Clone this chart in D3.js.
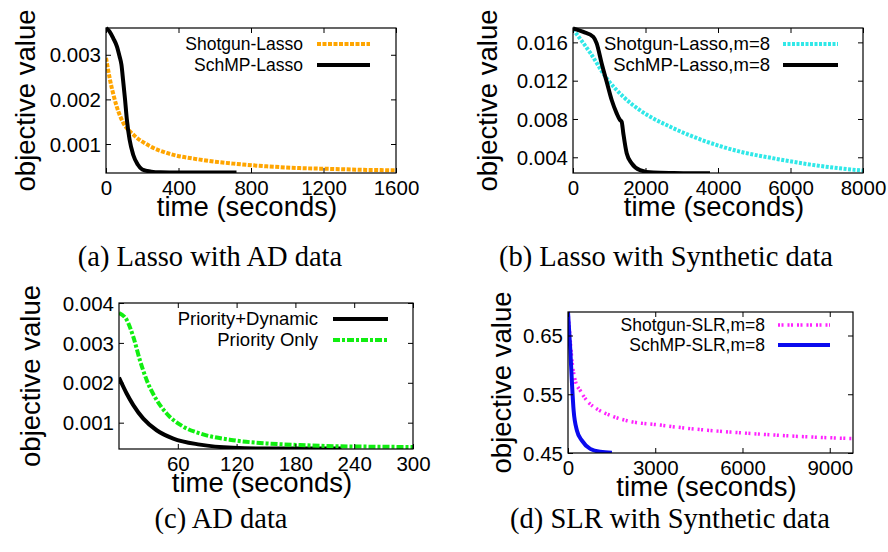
<!DOCTYPE html>
<html>
<head>
<meta charset="utf-8">
<script src="https://cdn.jsdelivr.net/npm/d3@7/dist/d3.min.js"></script>
<style>
html,body{margin:0;padding:0;background:#fff;}
svg{display:block;}
text{font-family:"Liberation Sans",Arial,sans-serif;fill:#000;}
.cap{font-family:"Liberation Serif","Times New Roman",serif;}
</style>
</head>
<body>
<svg id="chart" width="888" height="552"></svg>
<script>
// ---------- DATA ----------
// (a) Lasso with AD data
const aShotgunTime  = [0, 10, 22, 40, 59, 96, 151, 243, 335, 519, 702, 886, 1070, 1254, 1438, 1600];
const aShotgunValue = [0.00293, 0.0027, 0.00244, 0.00212, 0.00184, 0.00147, 0.00121, 0.00095, 0.0008, 0.00065, 0.00056, 0.0005, 0.00046, 0.00044, 0.00042, 0.00041];
const aSchmpTime    = [0, 20, 40, 60, 75, 85, 95, 105, 115, 130, 150, 175, 200, 250, 300, 400, 550, 720];
const aSchmpValue   = [0.0036, 0.00352, 0.00337, 0.00319, 0.00296, 0.00278, 0.0024, 0.002, 0.00155, 0.0011, 0.00076, 0.00054, 0.00043, 0.00038, 0.000365, 0.00036, 0.00036, 0.00036];
const aXTicks = [0, 400, 800, 1200, 1600];
const aYTicks = [0.001, 0.002, 0.003];

// (b) Lasso with Synthetic data
const bShotgunTime  = [0, 477, 936, 1394, 1853, 2771, 3688, 4606, 5523, 6440, 7358, 8000];
const bShotgunValue = [0.01736, 0.0149, 0.0122, 0.0103, 0.0089, 0.00703, 0.00563, 0.00459, 0.0039, 0.0033, 0.00285, 0.00261];
const bSchmpTime    = [0, 285, 560, 653, 791, 929, 1067, 1205, 1297, 1343, 1388, 1481, 1619, 1848, 2216, 2771, 3228, 3780];
const bSchmpValue   = [0.01746, 0.0171, 0.01658, 0.0159, 0.0138, 0.01189, 0.00998, 0.00859, 0.00789, 0.00771, 0.0065, 0.00442, 0.00337, 0.00267, 0.0024, 0.00235, 0.00233, 0.00233];
const bXTicks = [0, 2000, 4000, 6000, 8000];
const bYTicks = [0.004, 0.008, 0.012, 0.016];

// (c) AD data
const cDynTime   = [0, 7.8, 14.6, 24.8, 38.4, 55.4, 82.6, 116.5, 150.5, 190, 227];
const cDynValue  = [0.00213, 0.00173, 0.00144, 0.0011, 0.00081, 0.0006, 0.00045, 0.00037, 0.00035, 0.00035, 0.00035];
const cPrioTime  = [0, 7.8, 14.6, 21.4, 28.2, 38.4, 48.6, 65.6, 82.6, 116.5, 150.5, 184.5, 218.5, 252, 300];
const cPrioValue = [0.00375, 0.00358, 0.00315, 0.00256, 0.00207, 0.00157, 0.00123, 0.0009, 0.00073, 0.00056, 0.00048, 0.00044, 0.00041, 0.0004, 0.00039];
const cXTicks = [60, 120, 180, 240, 300];
const cYTicks = [0.001, 0.002, 0.003, 0.004];

// (d) SLR with Synthetic data
const dShotgunTime  = [0, 80, 137, 251, 423, 652, 995, 1452, 2024, 3168, 4198, 5342, 6486, 7630, 9800];
const dShotgunValue = [0.69, 0.64, 0.607, 0.573, 0.556, 0.539, 0.525, 0.514, 0.505, 0.4975, 0.4915, 0.4865, 0.4825, 0.479, 0.4745];
const dSchmpTime    = [0, 80, 137, 194, 309, 480, 766, 1109, 1510];
const dSchmpValue   = [0.69, 0.6245, 0.568, 0.522, 0.488, 0.471, 0.457, 0.452, 0.4505];
const dXTicks = [0, 3000, 6000, 9000];
const dYTicks = [0.45, 0.55, 0.65];

// ---------- STYLES ----------
const STY = {
  black:   {color:"#000000", width:4,   dash:null},
  orange:  {color:"#ffa500", width:4,   dash:"4,1.5"},
  cyan:    {color:"#30e8e8", width:4,   dash:"3,1.5"},
  green:   {color:"#11ee11", width:4,   dash:"7,2,3,2"},
  magenta: {color:"#ff22ff", width:3.5, dash:"2,1.5,2,4"},
  blue:    {color:"#0a0aee", width:4,   dash:null}
};
const zip = (t, v) => t.map((x, i) => ({t:x, v:v[i]}));

const panels = [
  {box:[106,396,28,173], xd:[0,1600], yd:[0.00035,0.0036], xt:aXTicks, yt:aYTicks, fmt:d3.format(".3f"),
   ylabX:35, tickFs:20.5, legFs:17.5, leg:{textX:303, x1:317, x2:370, y:[44,65]},
   caption:"(a) Lasso with AD data", capX:210, capY:266,
   series:[{name:"Shotgun-Lasso", data:zip(aShotgunTime,aShotgunValue), s:STY.orange},
           {name:"SchMP-Lasso", data:zip(aSchmpTime,aSchmpValue), s:STY.black}]},
  {box:[573,863,28,173], xd:[0,8000], yd:[0.00236,0.0175], xt:bXTicks, yt:bYTicks, fmt:d3.format(".3f"),
   ylabX:497, tickFs:20.5, legFs:18.5, leg:{textX:770, x1:783, x2:838, y:[44,65]},
   caption:"(b) Lasso with Synthetic data", capX:666, capY:266,
   series:[{name:"Shotgun-Lasso,m=8", data:zip(bShotgunTime,bShotgunValue), s:STY.cyan},
           {name:"SchMP-Lasso,m=8", data:zip(bSchmpTime,bSchmpValue), s:STY.black}]},
  {box:[119,413,303,449], xd:[0,300], yd:[0.00034,0.004], xt:cXTicks, yt:cYTicks, fmt:d3.format(".3f"),
   ylabX:40, tickFs:20.5, legFs:18.5, leg:{textX:318, x1:333, x2:388, y:[319,340]},
   caption:"(c) AD data", capX:221, capY:528,
   series:[{name:"Priority+Dynamic", data:zip(cDynTime,cDynValue), s:STY.black},
           {name:"Priority Only", data:zip(cPrioTime,cPrioValue), s:STY.green}]},
  {box:[568,853,312,453], xd:[0,9800], yd:[0.45,0.69], xt:dXTicks, yt:dYTicks, fmt:d3.format(".2f"),
   ylabX:511, tickFs:20.5, legFs:17.5, leg:{textX:765, x1:778, x2:830, y:[325,345]},
   caption:"(d) SLR with Synthetic data", capX:670, capY:528,
   series:[{name:"Shotgun-SLR,m=8", data:zip(dShotgunTime,dShotgunValue), s:STY.magenta},
           {name:"SchMP-SLR,m=8", data:zip(dSchmpTime,dSchmpValue), s:STY.blue}]}
];

const svg = d3.select("#chart");
const TL = 5;

panels.forEach(p => {
  const [L,R,T,B] = p.box;
  const x = d3.scaleLinear().domain(p.xd).range([L,R]);
  const y = d3.scaleLinear().domain(p.yd).range([B,T]);
  const g = svg.append("g");

  const clipId = "clip" + L + "_" + T;
  svg.append("clipPath").attr("id", clipId).append("rect")
     .attr("x", L).attr("y", T - 3).attr("width", R - L + 3).attr("height", B - T + 3);

  // series
  const line = d3.line().x(d => x(d.t)).y(d => y(d.v)).curve(d3.curveMonotoneX);
  p.series.forEach(s => {
    g.append("path").datum(s.data)
      .attr("d", line)
      .attr("fill","none")
      .attr("stroke", s.s.color)
      .attr("stroke-width", s.s.width)
      .attr("stroke-dasharray", s.s.dash)
      .attr("stroke-linejoin","round")
      .attr("clip-path", `url(#${clipId})`);
  });

  // axes with inward ticks
  const axB = d3.axisBottom(x).tickValues(p.xt).tickSize(-TL).tickPadding(7).tickFormat(d3.format("d"));
  const axT = d3.axisTop(x).tickValues(p.xt).tickSize(-TL).tickFormat("");
  const axL = d3.axisLeft(y).tickValues(p.yt).tickSize(-TL).tickPadding(7).tickFormat(p.fmt);
  const axR = d3.axisRight(y).tickValues(p.yt).tickSize(-TL).tickFormat("");
  const gb = g.append("g").attr("transform",`translate(0,${B})`).call(axB);
  const gt = g.append("g").attr("transform",`translate(0,${T})`).call(axT);
  const gl = g.append("g").attr("transform",`translate(${L},0)`).call(axL);
  const gr = g.append("g").attr("transform",`translate(${R},0)`).call(axR);
  [gb,gt,gl,gr].forEach(a => {
    a.select(".domain").remove();
    a.selectAll("line").attr("stroke","#000").attr("stroke-width",1);
    a.selectAll("text").style("font-family",'"Liberation Sans",Arial,sans-serif')
      .style("font-size", p.tickFs + "px").attr("fill","#000");
  });
  gb.selectAll("text").attr("dy", null).attr("y", 21.5);
  gl.selectAll("text").attr("x", -5).attr("dy", "0.35em");

  // frame
  g.append("rect").attr("x",L).attr("y",T).attr("width",R-L).attr("height",B-T)
    .attr("fill","none").attr("stroke","#000").attr("stroke-width",1.2);

  // axis labels
  g.append("text").attr("x",(L+R)/2 - 4).attr("y",B + 43).attr("text-anchor","middle")
    .style("font-size","27.5px").text("time (seconds)");
  g.append("text").attr("transform",`translate(${p.ylabX},${(T+B)/2}) rotate(-90)`)
    .attr("text-anchor","middle").style("font-size","27.5px").text("objective value");

  // legend
  p.series.forEach((s,i) => {
    const ly = p.leg.y[i];
    g.append("text").attr("x",p.leg.textX).attr("y",ly).attr("dy","0.35em")
      .attr("text-anchor","end").style("font-size",p.legFs+"px").text(s.name);
    g.append("line").attr("x1",p.leg.x1).attr("x2",p.leg.x2).attr("y1",ly).attr("y2",ly)
      .attr("stroke",s.s.color).attr("stroke-width",s.s.width).attr("stroke-dasharray",s.s.dash);
  });

  // caption
  g.append("text").attr("class","cap").attr("x",p.capX).attr("y",p.capY)
    .attr("text-anchor","middle").style("font-size","28.5px").text(p.caption);
});
</script>
</body>
</html>
